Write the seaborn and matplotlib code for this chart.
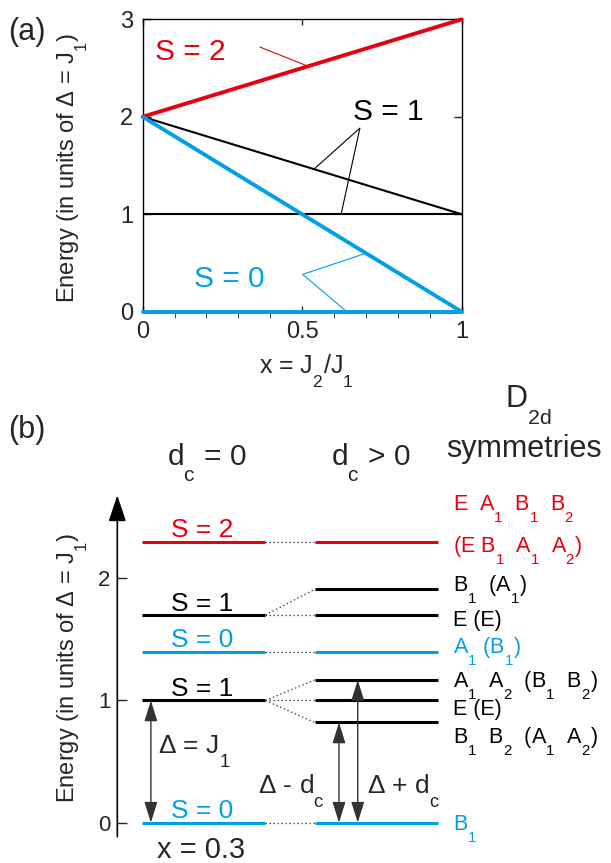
import numpy as np
import pandas as pd
import seaborn as sns
import matplotlib.pyplot as plt

sns.set_style("ticks")
plt.rcParams['font.family'] = ['Liberation Sans', 'DejaVu Sans']
plt.rcParams['mathtext.fontset'] = 'custom'
plt.rcParams['mathtext.rm'] = 'Liberation Sans'
plt.rcParams['mathtext.it'] = 'Liberation Sans'
plt.rcParams['mathtext.bf'] = 'Liberation Sans:bold'

# subscritos mais baixos, como na figura original
try:
    import matplotlib._mathtext as _mt
    _mt.FontConstantsBase.sub1 = 1.0
except Exception:
    pass

RED = '#e60012'
CYAN = '#00a0e9'

# (a) energias em funcao de x = J2/J1
x_vals = [0, 1]
e_s2 = [2, 3]
e_s1_a = [2, 1]
e_s1_b = [1, 1]
e_s0_a = [2, 0]
e_s0_b = [0, 0]

# (b) niveis para x = 0.3
lev_esq = [2.3, 1.7, 1.4, 1.0, 0.0]
cor_esq = [RED, 'k', CYAN, 'k', CYAN]
rot_esq = ['S = 2', 'S = 1', 'S = 0', 'S = 1', 'S = 0']
lev_dir = [2.3, 1.91, 1.7, 1.4, 1.168, 1.0, 0.82, 0.0]
cor_dir = [RED, 'k', 'k', CYAN, 'k', 'k', 'k', CYAN]
ligacoes = [(2.3, 2.3), (1.7, 1.91), (1.7, 1.7), (1.4, 1.4),
            (1.0, 1.168), (1.0, 1.0), (1.0, 0.82), (0.0, 0.0)]
sim_rot = ['E  A$_1$  B$_1$  B$_2$', '(E B$_1$  A$_1$  A$_2$)', 'B$_1$  (A$_1$)', 'E (E)',
           'A$_1$ (B$_1$)', 'A$_1$  A$_2$  (B$_1$  B$_2$)', 'E (E)', 'B$_1$  B$_2$  (A$_1$  A$_2$)', 'B$_1$']
sim_y = [2.559, 2.218, 1.899, 1.612, 1.389, 1.113, 0.881, 0.650, -0.06]
sim_cor = [RED, RED, 'k', 'k', CYAN, 'k', 'k', 'k', CYAN]

fig = plt.figure(figsize=(6.11, 8.63), dpi=100)

# ---------------- painel (a)
ax = fig.add_axes([0.2335, 0.6388, 0.5221, 0.3388])
sns.lineplot(x=x_vals, y=e_s1_a, color='k', lw=1.5, ax=ax)
sns.lineplot(x=x_vals, y=e_s1_b, color='k', lw=1.5, ax=ax)
sns.lineplot(x=x_vals, y=e_s2, color=RED, lw=2.8, ax=ax, clip_on=False, zorder=4)
sns.lineplot(x=x_vals, y=e_s0_a, color=CYAN, lw=2.8, ax=ax, clip_on=False, zorder=4)
sns.lineplot(x=x_vals, y=e_s0_b, color=CYAN, lw=2.8, ax=ax, clip_on=False, zorder=4)
ax.set_xlim(0, 1)
ax.set_ylim(0, 3)
ax.set_xticks([0, 0.5, 1])
ax.set_xticklabels(['0', '0.5', '1'])
ax.set_xticks(np.arange(0, 1.01, 0.1), minor=True)
ax.set_yticks([0, 1, 2, 3])
ax.tick_params(axis='both', direction='in', top=True, right=True, labelsize=17, width=1)
ax.tick_params(axis='x', which='both', length=4, pad=7)
ax.tick_params(axis='y', length=5.5, pad=7)
for s in ax.spines.values():
    s.set_linewidth(1)
    s.set_color('k')

# rotulos com linhas indicadoras
ax.text(0.039, 2.66, 'S = 2', color=RED, fontsize=21.5, va='center')
ax.plot([0.368, 0.51], [2.715, 2.53], color=RED, lw=0.8)
ax.text(0.66, 2.05, 'S = 1', color='k', fontsize=21.5, va='center')
ax.plot([0.537, 0.681, 0.622], [1.463, 1.884, 1.0], color='k', lw=0.8)
ax.text(0.161, 0.335, 'S = 0', color=CYAN, fontsize=21.5, va='center')
ax.plot([0.70, 0.5016, 0.64], [0.60, 0.383, 0.0], color=CYAN, lw=0.8)

fig.text(0.118, 0.8048, 'Energy (in units of Δ = J$_1$)', rotation=90, ha='center', va='center', fontsize=17)
fig.text(0.502, 1 - 373 / 863, 'x = J$_2$/J$_1$', ha='center', va='baseline', fontsize=18)
fig.text(0.013, 0.963, '(a)', ha='left', va='center', fontsize=22)

# ---------------- painel (b)
bx = fig.add_axes([0.192, 0.0, 0.808, 0.5597])
bx.set_xlim(0, 10)
bx.set_ylim(-0.3298, 3.6228)
for s in bx.spines.values():
    s.set_visible(False)
bx.set_xticks([])
bx.set_yticks([0, 1, 2])
bx.tick_params(axis='y', direction='in', length=7.5, width=1, labelsize=16, pad=5)
bx.annotate('', xy=(0, 2.68), xytext=(0, -0.115),
            arrowprops=dict(arrowstyle='-|>,head_length=0.9,head_width=0.3', color='k', lw=1.2,
                            shrinkA=0, shrinkB=0, mutation_scale=18))

bx.hlines(lev_esq, 0.5, 3.0, colors=cor_esq, lw=2.2)
bx.hlines(lev_dir, 4.0, 6.5, colors=cor_dir, lw=2.2)
for y0, y1 in ligacoes:
    bx.plot([3.0, 4.0], [y0, y1], color='#444444', lw=0.9, ls=(0, (1.2, 2)))
for y, c, r in zip(lev_esq, cor_esq, rot_esq):
    bx.text(1.726, y + 0.035, r, color=c, fontsize=19, ha='center', va='baseline')
for y, c, r in zip(sim_y, sim_cor, sim_rot):
    bx.text(6.80, y, r, color=c, fontsize=15.5, ha='left', va='baseline')

# setas duplas
seta = dict(arrowstyle='<|-|>,head_length=0.8,head_width=0.25', color='#333333', lw=1,
            shrinkA=0, shrinkB=0, mutation_scale=16)
bx.annotate('', xy=(0.68, 1.0), xytext=(0.68, 0.0), arrowprops=seta)
bx.annotate('', xy=(4.49, 0.82), xytext=(4.49, 0.0), arrowprops=seta)
bx.annotate('', xy=(4.87, 1.168), xytext=(4.87, 0.0), arrowprops=seta)
bx.text(0.826, 0.573, 'Δ = J$_1$', fontsize=19, va='baseline')
bx.text(2.85, 0.243, 'Δ - d$_c$', fontsize=19, va='baseline')
bx.text(5.05, 0.243, 'Δ + d$_c$', fontsize=19, va='baseline')
bx.text(0.806, -0.288, 'x = 0.3', fontsize=21, va='baseline')

bx.text(1.0, 2.928, 'd$_c$ = 0', fontsize=21.5, va='baseline')
bx.text(4.32, 2.928, 'd$_c$ > 0', fontsize=21.5, va='baseline')
bx.text(7.85, 3.404, 'D$_{2d}$', fontsize=22, va='baseline')
bx.text(6.67, 2.995, 'symmetries', fontsize=22, va='baseline')

fig.text(0.118, 0.2265, 'Energy (in units of Δ = J$_1$)', rotation=90, ha='center', va='center', fontsize=17)
fig.text(0.013, 0.5017, '(b)', ha='left', va='center', fontsize=22)

fig.savefig('out.png', dpi=100)
